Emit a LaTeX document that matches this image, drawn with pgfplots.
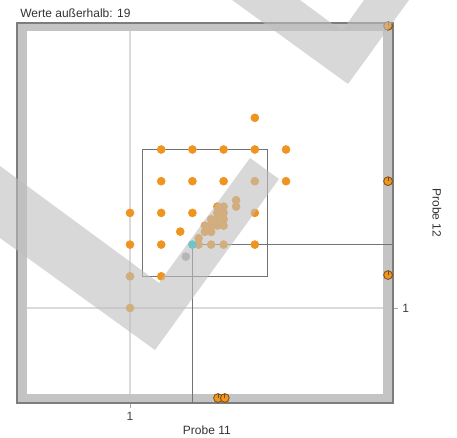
\documentclass[border=0pt]{standalone}
\usepackage{fontspec}
\setmainfont{Liberation Sans}
\usepackage{pgfplots}
\pgfplotsset{compat=1.18}
\definecolor{orangeP}{RGB}{240,148,32}
\definecolor{cyanP}{RGB}{0,200,215}
\definecolor{grayP}{RGB}{170,170,170}
\definecolor{frameGray}{RGB}{196,196,196}
\definecolor{frameDark}{RGB}{125,125,125}
\definecolor{boxGray}{RGB}{115,115,115}
\definecolor{refGray}{RGB}{218,218,218}
\definecolor{outlDark}{RGB}{120,75,20}
\definecolor{wm}{RGB}{190,190,190}
\pgfdeclareplotmark{outl}{%
  \pgfpathcircle{\pgfpointorigin}{\pgfplotmarksize}\pgfusepathqfillstroke
  \pgfpathmoveto{\pgfpointorigin}\pgfpathlineto{\pgfqpoint{0pt}{\pgfplotmarksize}}\pgfusepathqstroke}
\begin{document}
\fontsize{9}{11}\selectfont
\begin{tikzpicture}
\useasboundingbox (0,0) rectangle (342.75pt,328.5pt);
\begin{axis}[
  at={(12.75pt,26.25pt)}, anchor=south west,
  scale only axis, width=282pt, height=285pt,
  xmin=-3.622, xmax=8.429, ymin=-2.997, ymax=8.991,
  clip=false,
  axis line style={draw=none},
  xtick={0}, xticklabels={1}, ytick={0}, yticklabels={1},
  xtick pos=bottom, ytick pos=right, yticklabel pos=right,
  tick align=outside, major tick length=3.75pt,
  tick style={draw=gray!70, line width=0.6pt},
  /pgf/number format/assume math mode=true,
  ticklabel style={font=\fontsize{9}{11}\selectfont, text=black!75},
  every axis x label/.style={at={(axis description cs:0.505,-0.071)}, anchor=center},
  every axis y label/.style={at={(axis description cs:1.117,0.5)}, anchor=center, rotate=-90},
  label style={font=\fontsize{9}{11}\selectfont, text=black!80},
  xlabel={Probe 11}, ylabel={Probe 12},
]
\fill[frameGray, draw=frameDark, line width=1pt] (axis cs:-3.622,-2.997) rectangle (axis cs:8.429,8.991);
\fill[white] (axis cs:-3.301,-2.713) rectangle (axis cs:8.109,8.738);
\draw[refGray, line width=0.8pt] (axis cs:0,-2.713) -- (axis cs:0,8.738);
\draw[refGray, line width=0.8pt] (axis cs:-3.301,0) -- (axis cs:8.109,0);
\draw[boxGray, line width=0.9pt] (axis cs:0.4,1.0) rectangle (axis cs:4.4,5.0);
\draw[boxGray, line width=0.9pt] (axis cs:2,-2.997) -- (axis cs:2,2) -- (axis cs:8.429,2);
\addplot[only marks, mark=*, mark size=3pt, color=orangeP] coordinates {
 (4,6) (1,5) (2,5) (3,5) (4,5) (5,5)
 (1,4) (2,4) (3,4) (4,4) (5,4)
 (0,3) (1,3) (2,3) (4,3)
 (0,2) (1,2) (4,2)
 (0,1) (1,1) (0,0) (1.61,2.41)
 (3.4,3.4) (3.4,3.2) (2.8,3.2) (3.0,3.2) (2.8,3.0) (3.0,3.0)
 (2.8,2.8) (3.0,2.8) (2.6,2.8) (2.4,2.6) (2.6,2.6) (2.8,2.6) (3.0,2.6)
 (2.4,2.4) (2.6,2.4) (2.2,2.2) (2.2,2.0) (2.6,2.0) (3.0,2.0)
};
\addplot[only marks, mark=*, mark size=3pt, color=grayP] coordinates {(1.79,1.62)};
\addplot[only marks, mark=*, mark size=3pt, color=cyanP] coordinates {(2,2)};
\addplot[only marks, mark=outl, mark size=3.3pt, mark options={fill=orangeP, draw=outlDark, line width=0.6pt}] coordinates {
 (8.27,8.9) (8.27,4.0) (8.27,1.04) (2.82,-2.84) (3.04,-2.84)
};
\end{axis}
\begin{scope}[x=0.75pt, y=-0.75pt, shift={(0,328.5pt)}]
  \clip (0,0) rectangle (457,438);
  \fill[wm, opacity=0.6] (0,166) -- (159,283) -- (250,158) -- (279,179) -- (155,350) -- (0,238) -- cycle;
  \fill[wm, opacity=0.6] (232,0) -- (348,84) -- (409,0) -- (364,0) -- (342,31) -- (300,0) -- cycle;
  \node[anchor=west, inner sep=0pt, text=black!80] at (20,13) {Werte außerhalb: 19};
\end{scope}
\end{tikzpicture}
\end{document}
